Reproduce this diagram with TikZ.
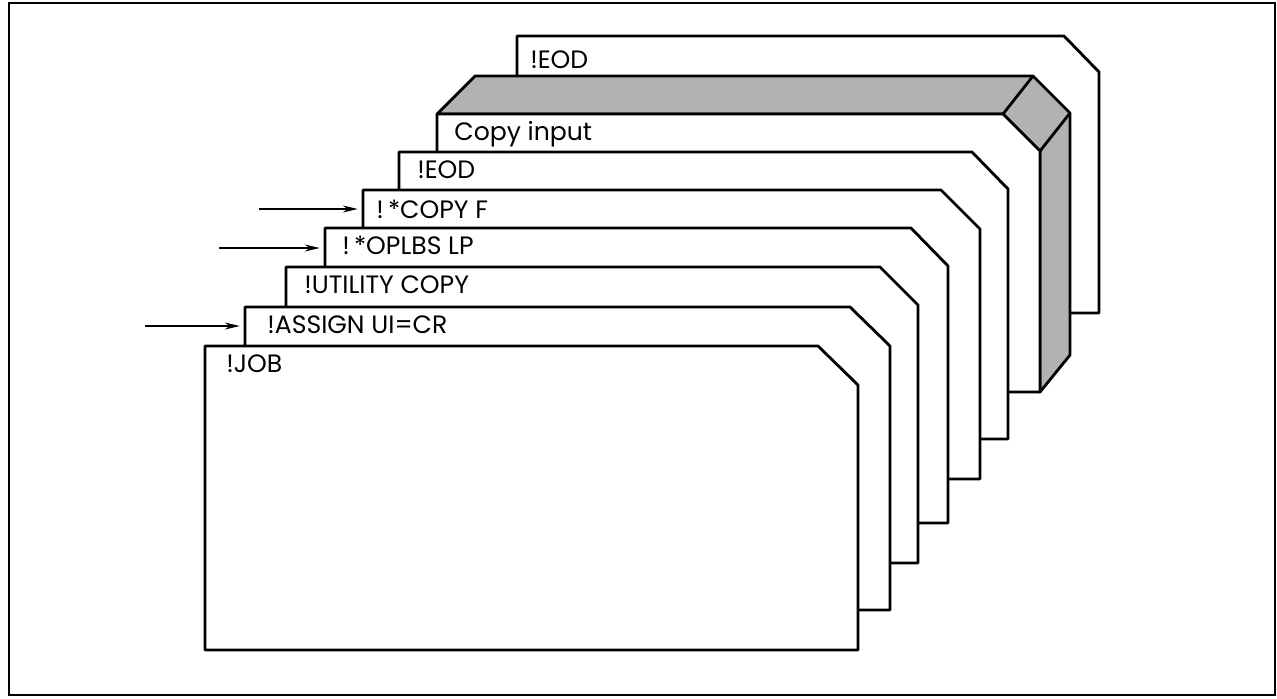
\documentclass[tikz,border=0pt]{standalone}
\usepackage{fontspec}
\setmainfont{Poppins}
\usetikzlibrary{positioning,calc,arrows.meta}

\begin{document}
\begin{tikzpicture}[x=0.02cm, y=-0.02cm, card/.style={draw, fill=white, line width=1.6pt, line join=round}, deck/.style={draw, fill=black!30, line width=1.6pt, line join=round}, lbl/.style={anchor=base west, inner sep=0pt, font=\fontsize{14.3}{16}\selectfont}, feed/.style={-{Stealth[length=8.5pt, width=4pt]}, line width=0.7pt, shorten >=3pt}]

\useasboundingbox (0,0) rectangle (1277,698);
\draw[line width=1.6pt] (9,3) rectangle (1275,695);

% back card and the input deck
\filldraw[card] (517,313) -- (517,36) -- (1064,36) -- (1099,72) -- (1099,313) -- cycle;
\node[lbl] (eodback) at (530,68) {!EOD};
\filldraw[deck] (437,114) -- (475,76) -- (1033,76) -- (1070,113) -- (1070,355) -- (1040,392) -- (1040,151) -- (1003,114) -- cycle;
\draw[line width=1.6pt] (1003,114) -- (1033,76) (1040,151) -- (1070,113);
\filldraw[card] (437,392) -- (437,114) -- (1003,114) -- (1040,151) -- (1040,392) -- cycle;
\node[lbl] (input) at (454,140) {Copy input};

% control cards
\filldraw[card] (399,439) -- (399,152) -- (972,152) -- (1008,189) -- (1008,439) -- cycle;
\node[lbl] (eod) at (417,178) {!EOD};
\filldraw[card] (363,479) -- (363,190) -- (941,190) -- (980,229) -- (980,479) -- cycle;
\node[lbl] (copyf) at (376,218) {!\,*COPY F};
\filldraw[card] (325,523) -- (325,228) -- (911,228) -- (948,266) -- (948,523) -- cycle;
\node[lbl] (oplbs) at (342,254) {!\,*OPLBS LP};
\filldraw[card] (286,563) -- (286,267) -- (880,267) -- (918,305) -- (918,563) -- cycle;
\node[lbl] (utility) at (304,293) {!UTILITY COPY};
\filldraw[card] (245,610) -- (245,307) -- (850,307) -- (890,346) -- (890,610) -- cycle;
\node[lbl] (assign) at (267,333) {!ASSIGN UI=CR};
\filldraw[card] (205,650) -- (205,346) -- (818,346) -- (858,385) -- (858,650) -- cycle;
\node[lbl] (job) at (226,372) {!JOB};

% arrows into the cards
\coordinate (copyf-src) at (259,209);
\coordinate (copyf-edge) at (363,209);
\coordinate (oplbs-src) at (219,248);
\coordinate (oplbs-edge) at (325,248);
\coordinate (assign-src) at (145,326);
\coordinate (assign-edge) at (245,326);
\draw[feed] (copyf-src) -- (copyf-edge);
\draw[feed] (oplbs-src) -- (oplbs-edge);
\draw[feed] (assign-src) -- (assign-edge);
\end{tikzpicture}
\end{document}
